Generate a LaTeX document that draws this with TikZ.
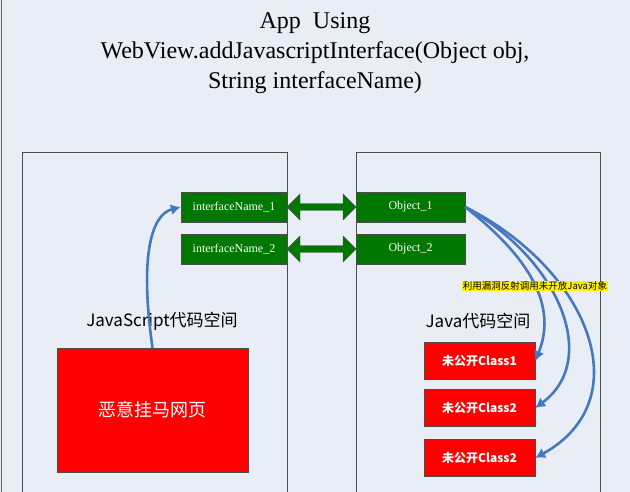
\documentclass[tikz,border=0pt]{standalone}
\usepackage{fontspec}
\setmainfont{Liberation Serif}
\newfontfamily\cjk{Noto Sans CJK SC}
\usetikzlibrary{shapes.arrows, arrows.meta, positioning}
\definecolor{bgblue}{RGB}{233, 237, 246}
\definecolor{boxgreen}{RGB}{0, 120, 0}
\definecolor{linkblue}{RGB}{70, 120, 190}

\begin{document}
\begin{tikzpicture}[x=1pt, y=-1pt,
  greenbox/.style={draw=black!70, fill=boxgreen, text=white, minimum height=30pt, font=\fontsize{12}{14}\selectfont},
  redbox/.style={draw=black!70, fill=red, text=white, minimum width=111pt, minimum height=37pt, font=\cjk\bfseries\fontsize{12}{14}\selectfont},
  link/.style={linkblue, line width=2.6pt, -{Latex[length=10pt,width=11pt]}},
  dblarrow/.style={double arrow, draw=black!70, fill=boxgreen, minimum width=26pt, minimum height=69pt, double arrow head extend=6pt, inner sep=2pt}]
% background and frames
\fill[bgblue] (0,0) rectangle (630,492);
\useasboundingbox (0,0) rectangle (630,492);
\draw[black!60] (1,0) -- (1,492);
\draw[black!70] (22,492) -- (22,152) -- (287,152) -- (287,492);
\draw[black!70] (356,492) -- (356,152) -- (600,152) -- (600,492);

% title
\node[align=center, font=\fontsize{24}{30}\selectfont] (title) at (315,53)
  {App\ \ Using\\WebView.addJavascriptInterface(Object obj,\\String interfaceName)};

% interfaces and objects
\node[greenbox, minimum width=106pt] (if1) at (234,207) {interfaceName\_1};
\node[greenbox, minimum width=106pt] (if2) at (234,249) {interfaceName\_2};
\node[greenbox, minimum width=109pt] (obj1) at (410.5,207) {Object\_1};
\node[greenbox, minimum width=109pt] (obj2) at (410.5,249) {Object\_2};
\node[dblarrow] (bridge1) at (321.5,207) {};
\node[dblarrow] (bridge2) at (321.5,249) {};

% code spaces
\node[font=\cjk\fontsize{17}{20}\selectfont] (jsspace) at (162,321) {JavaScript代码空间};
\node[font=\cjk\fontsize{17}{20}\selectfont] (javaspace) at (478,321) {Java代码空间};

% malicious page and hidden classes
\node[draw=black!70, fill=red, text=white, minimum width=191pt, minimum height=124pt,
  font=\cjk\fontsize{18}{22}\selectfont] (page) at (152.5,410) {恶意挂马网页};
\node[redbox] (cls1) at (479.5,361) {未公开Class1};
\node[redbox] (cls2) at (479.5,408) {未公开Class2};
\node[redbox] (cls3) at (479.5,458) {未公开Class2};

% links
\draw[link] (page.north) .. controls (140,260) and (150,215) .. (if1.west);
\draw[link] (obj1.east) .. controls (520,250) and (560,300) .. (cls1.east);
\draw[link] (obj1.east) .. controls (560,260) and (600,360) .. (cls2.east);
\draw[link] (obj1.east) .. controls (590,270) and (640,400) .. (cls3.east);

\node[fill=yellow, inner sep=1pt, font=\cjk\fontsize{9.5}{11}\selectfont] (exploit) at (535,286) {利用漏洞反射调用未开放Java对象};
\end{tikzpicture}
\end{document}
